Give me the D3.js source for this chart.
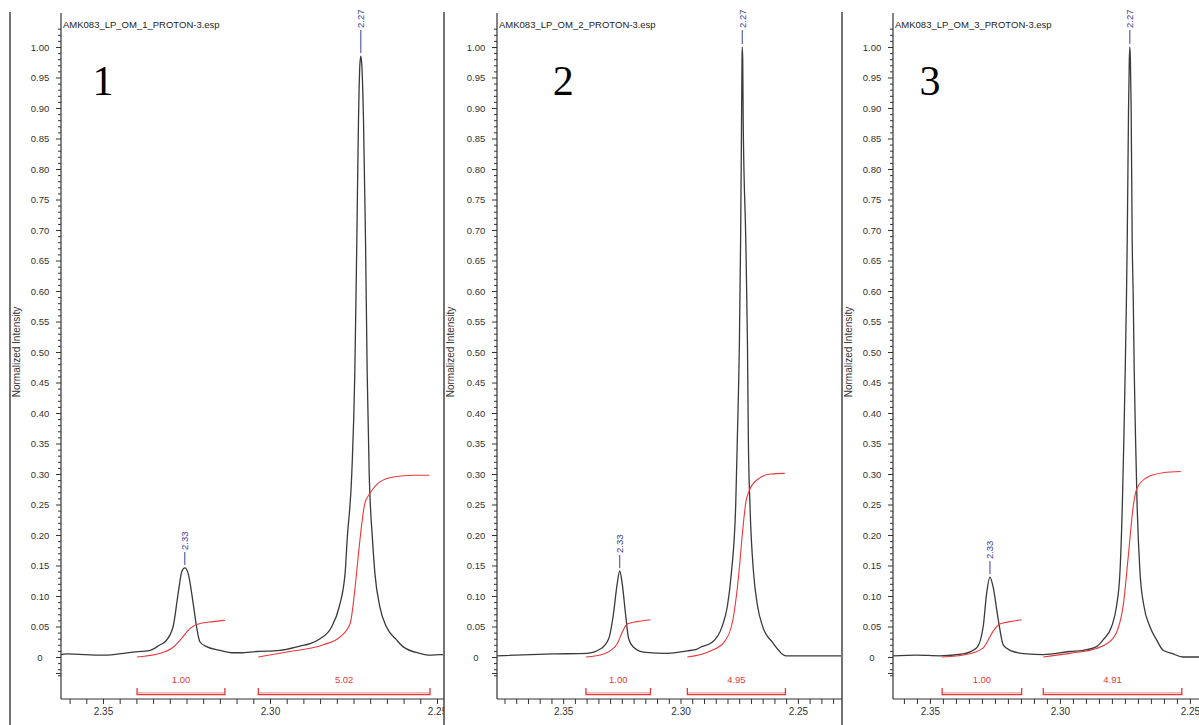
<!DOCTYPE html>
<html><head><meta charset="utf-8">
<script src="https://cdn.jsdelivr.net/npm/d3@7"></script>
<style>body{margin:0;background:#fff;} svg{display:block;font-family:"Liberation Sans",Arial,sans-serif;}</style>
</head><body><svg id="c" width="1199" height="725"></svg>
<script>
// ---------------- data ----------------
const panelTitles = ["AMK083_LP_OM_1_PROTON-3.esp","AMK083_LP_OM_2_PROTON-3.esp","AMK083_LP_OM_3_PROTON-3.esp"];
const panelNumbers = ["1","2","3"];
const yAxisTitle = "Normalized Intensity";
const xTickLabels = ["2.35","2.30","2.25"];
const yTickLabels = ["0","0.05","0.10","0.15","0.20","0.25","0.30","0.35","0.40","0.45","0.50","0.55","0.60","0.65","0.70","0.75","0.80","0.85","0.90","0.95","1.00"];

// spectra: [ppm, normalized intensity]
const spectrum1 = [[2.3626,0.004],[2.3610,0.005],[2.3500,0.003],[2.3410,0.008],[2.3359,0.011],[2.3329,0.020],[2.3314,0.025],[2.3290,0.050],[2.3275,0.104],[2.3264,0.140],[2.3255,0.146],[2.3245,0.137],[2.3230,0.088],[2.3220,0.050],[2.3210,0.025],[2.3190,0.017],[2.3150,0.011],[2.3110,0.007],[2.3090,0.007],[2.3040,0.009],[2.2970,0.011],[2.2910,0.018],[2.2880,0.022],[2.2850,0.030],[2.2817,0.048],[2.2793,0.082],[2.2775,0.138],[2.2769,0.192],[2.2755,0.302],[2.2746,0.466],[2.2740,0.684],[2.2735,0.880],[2.2731,0.970],[2.2728,0.985],[2.2725,0.970],[2.2720,0.880],[2.2714,0.684],[2.2709,0.466],[2.2703,0.302],[2.2693,0.192],[2.2686,0.138],[2.2671,0.082],[2.2651,0.049],[2.2621,0.028],[2.2602,0.017],[2.2551,0.006],[2.2521,0.003],[2.2491,0.004],[2.2482,0.004]];
const spectrum2 = [[2.3782,0.002],[2.3542,0.005],[2.3399,0.006],[2.3342,0.013],[2.3306,0.030],[2.3285,0.073],[2.3271,0.117],[2.3259,0.141],[2.3249,0.122],[2.3235,0.073],[2.3221,0.030],[2.3200,0.016],[2.3157,0.008],[2.3057,0.006],[2.2971,0.010],[2.2929,0.013],[2.2915,0.016],[2.2865,0.024],[2.2822,0.051],[2.2800,0.084],[2.2783,0.139],[2.2765,0.248],[2.2758,0.357],[2.2749,0.520],[2.2744,0.684],[2.2740,0.880],[2.2738,0.980],[2.2737,1.000],[2.2735,0.980],[2.2733,0.880],[2.2722,0.684],[2.2715,0.520],[2.2711,0.357],[2.2704,0.248],[2.2689,0.139],[2.2672,0.084],[2.2651,0.051],[2.2608,0.024],[2.2551,0.002],[2.2316,0.002]];
const spectrum3 = [[2.3642,0.002],[2.3551,0.003],[2.3462,0.002],[2.3372,0.005],[2.3320,0.015],[2.3295,0.050],[2.3282,0.104],[2.3269,0.131],[2.3257,0.115],[2.3237,0.061],[2.3218,0.020],[2.3192,0.011],[2.3128,0.005],[2.3064,0.004],[2.2962,0.009],[2.2910,0.011],[2.2859,0.017],[2.2834,0.028],[2.2801,0.050],[2.2782,0.084],[2.2769,0.139],[2.2760,0.248],[2.2754,0.357],[2.2749,0.466],[2.2744,0.590],[2.2741,0.684],[2.2736,0.900],[2.2733,0.980],[2.2731,1.000],[2.2729,0.980],[2.2726,0.900],[2.2722,0.684],[2.2718,0.590],[2.2714,0.466],[2.2709,0.357],[2.2703,0.248],[2.2692,0.139],[2.2677,0.084],[2.2654,0.050],[2.2628,0.028],[2.2603,0.011],[2.2570,0.006],[2.2526,0.000],[2.2465,0.000]];

// integral curves
const integral1a = [[2.3398,0.000],[2.3329,0.006],[2.3290,0.016],[2.3264,0.031],[2.3239,0.047],[2.3210,0.055],[2.3170,0.058],[2.3135,0.060]];
const integral1b = [[2.3035,0.000],[2.2940,0.009],[2.2840,0.020],[2.2790,0.033],[2.2760,0.055],[2.2746,0.110],[2.2736,0.164],[2.2725,0.219],[2.2716,0.252],[2.2701,0.268],[2.2671,0.287],[2.2631,0.295],[2.2571,0.298],[2.2523,0.298]];
const integral2a = [[2.3403,0.000],[2.3328,0.005],[2.3271,0.021],[2.3249,0.040],[2.3228,0.054],[2.3185,0.058],[2.3128,0.061]];
const integral2b = [[2.2971,0.000],[2.2872,0.010],[2.2815,0.024],[2.2779,0.057],[2.2751,0.139],[2.2736,0.204],[2.2722,0.253],[2.2708,0.272],[2.2672,0.291],[2.2615,0.300],[2.2556,0.301]];
const integral3a = [[2.3453,0.000],[2.3359,0.004],[2.3295,0.015],[2.3257,0.042],[2.3231,0.054],[2.3192,0.058],[2.3147,0.061]];
const integral3b = [[2.3064,0.000],[2.2962,0.006],[2.2859,0.014],[2.2795,0.031],[2.2757,0.083],[2.2737,0.165],[2.2718,0.247],[2.2705,0.275],[2.2667,0.294],[2.2603,0.302],[2.2535,0.304]];

// integral ranges [from ppm, to ppm] and values
const integralRanges1 = [[2.3398,2.3135],[2.3035,2.2521]];
const integralRanges2 = [[2.3403,2.3128],[2.2971,2.2553]];
const integralRanges3 = [[2.3453,2.3147],[2.3064,2.2531]];
const integralValues1 = ["1.00","5.02"];
const integralValues2 = ["1.00","4.95"];
const integralValues3 = ["1.00","4.91"];

// picked peaks [ppm, intensity, label]
const peaks1 = [[2.3255,0.146,"2.33"],[2.2728,0.985,"2.27"]];
const peaks2 = [[2.3259,0.141,"2.33"],[2.2737,1.000,"2.27"]];
const peaks3 = [[2.3269,0.131,"2.33"],[2.2731,1.000,"2.27"]];

// ---------------- layout ----------------
const panels = [
  {border:10, ax:61, right:443, clipR:444, dom:[2.36257,2.2482], spec:spectrum1, ints:[integral1a,integral1b], ranges:integralRanges1, vals:integralValues1, peaks:peaks1},
  {border:444, ax:497, right:842, clipR:842, dom:[2.3782,2.2312], spec:spectrum2, ints:[integral2a,integral2b], ranges:integralRanges2, vals:integralValues2, peaks:peaks2},
  {border:842, ax:893, right:1199, clipR:1199, dom:[2.3642,2.2465], spec:spectrum3, ints:[integral3a,integral3b], ranges:integralRanges3, vals:integralValues3, peaks:peaks3}
];
const Y0 = 657, Y1 = 47, XAXIS_Y = 699, TOP = 12;
const svg = d3.select("#c");
const ink = "#333";
const red = "#e8383a";
const blue = "#3c3c9c";

panels.forEach((p,i) => {
  const cid = "clip"+i;
  svg.append("clipPath").attr("id",cid).append("rect")
     .attr("x",p.border).attr("y",0).attr("width",p.clipR-p.border).attr("height",725);
  const g = svg.append("g").attr("clip-path",`url(#${cid})`);
  const x = d3.scaleLinear().domain(p.dom).range([p.ax,p.right]);
  const y = d3.scaleLinear().domain([0,1]).range([Y0,Y1]);

  // y axis: minor ticks
  const minor = d3.range(-3,104).map(v=>v/100).filter(v=>Math.round(v*100)%5!==0);
  const major = yTickLabels.map(Number);
  const yMinor = g.append("g").attr("transform",`translate(${p.ax},0)`)
     .call(d3.axisLeft(y).tickValues(minor).tickSize(3).tickFormat(""));
  const yMajor = g.append("g").attr("transform",`translate(${p.ax},0)`)
     .call(d3.axisLeft(y).tickValues(major).tickSize(5).tickFormat((d,k)=>yTickLabels[k]));
  [yMinor,yMajor].forEach(a=>{a.select(".domain").remove(); a.selectAll("line").attr("stroke",ink);});
  yMajor.selectAll("text").attr("x",-21).attr("text-anchor","middle").attr("fill",ink)
     .style("font-size","9.5px").style("font-family","'Liberation Sans',Arial,sans-serif");
  // lower extra tick
  g.append("line").attr("x1",p.ax-5).attr("x2",p.ax).attr("y1",y(-0.027)).attr("y2",y(-0.027)).attr("stroke",ink);
  g.append("line").attr("x1",p.ax).attr("x2",p.ax).attr("y1",TOP+1).attr("y2",XAXIS_Y).attr("stroke",ink).attr("stroke-width",1.2);

  // x axis
  const lo = Math.ceil(Math.min(...p.dom)*200), hi = Math.floor(Math.max(...p.dom)*200);
  const xt = d3.range(lo,hi+1).map(v=>v/200);
  const xa = g.append("g").attr("transform",`translate(0,${XAXIS_Y})`)
     .call(d3.axisBottom(x).tickValues(xt).tickSize(5)
       .tickFormat(d=>{const s=d.toFixed(2); return xTickLabels.includes(s) && Math.abs(d*100-Math.round(d*100))<1e-6 && Math.round(d*100)%5===0 ? s : "";}));
  xa.select(".domain").remove();
  xa.selectAll("line").attr("stroke",ink);
  xa.selectAll("text").attr("fill",ink).attr("y",9).style("font-size","10px").style("font-family","'Liberation Sans',Arial,sans-serif");
  g.append("line").attr("x1",p.ax).attr("x2",p.right+2).attr("y1",XAXIS_Y).attr("y2",XAXIS_Y).attr("stroke",ink).attr("stroke-width",1.2);

  // titles
  g.append("text").attr("x",p.ax+2).attr("y",28).text(panelTitles[i])
     .attr("fill","#222").style("font-size","9.5px");
  g.append("text").attr("transform",`translate(${p.border+10},352) rotate(-90)`).attr("text-anchor","middle")
     .text(yAxisTitle).attr("fill",ink).style("font-size","10px");
  g.append("text").attr("x",x(2.35)).attr("y",95).attr("text-anchor","middle").text(panelNumbers[i])
     .style("font-family","'Liberation Serif','Times New Roman',serif").style("font-size","42px").attr("fill","#000");

  // spectrum
  const line = d3.line().x(d=>x(d[0])).y(d=>y(d[1])).curve(d3.curveMonotoneX);
  g.append("path").datum(p.spec).attr("d",line).attr("fill","none").attr("stroke","#3a3a3a").attr("stroke-width",1.3);
  // integrals
  p.ints.forEach(arr=>{
    g.append("path").datum(arr).attr("d",line).attr("fill","none").attr("stroke",red).attr("stroke-width",1.1);
  });
  // integral brackets
  p.ranges.forEach((r,k)=>{
    const x0 = x(r[0]), x1 = x(r[1]);
    g.append("path").attr("d",`M${x0},688V694.5H${x1}V688`).attr("fill","none").attr("stroke",red).attr("stroke-width",1.3);
    g.append("line").attr("x1",x0).attr("x2",x1).attr("y1",692.5).attr("y2",692.5).attr("stroke",red).attr("stroke-width",0.6).attr("opacity",0.6);
    g.append("text").attr("x",(x0+x1)/2).attr("y",683).attr("text-anchor","middle").text(p.vals[k])
      .attr("fill",red).style("font-size","9.5px");
  });
  // peak labels
  p.peaks.forEach(pk=>{
    const px = x(pk[0]), py = y(pk[1]);
    const top = pk[1] > 0.9 ? 30 : py-16;
    g.append("line").attr("x1",px).attr("x2",px).attr("y1",top).attr("y2",py-3).attr("stroke",blue).attr("stroke-width",1);
    g.append("text").attr("transform",`translate(${px},${top-2}) rotate(-90)`).attr("dy","0.35em")
      .text(pk[2]).attr("fill",blue).style("font-size","9.5px");
  });
});
// panel borders
[10,444,842].forEach(bx=>{
  svg.append("line").attr("x1",bx).attr("x2",bx).attr("y1",TOP).attr("y2",725).attr("stroke","#444").attr("stroke-width",1.5);
});
</script></body></html>
